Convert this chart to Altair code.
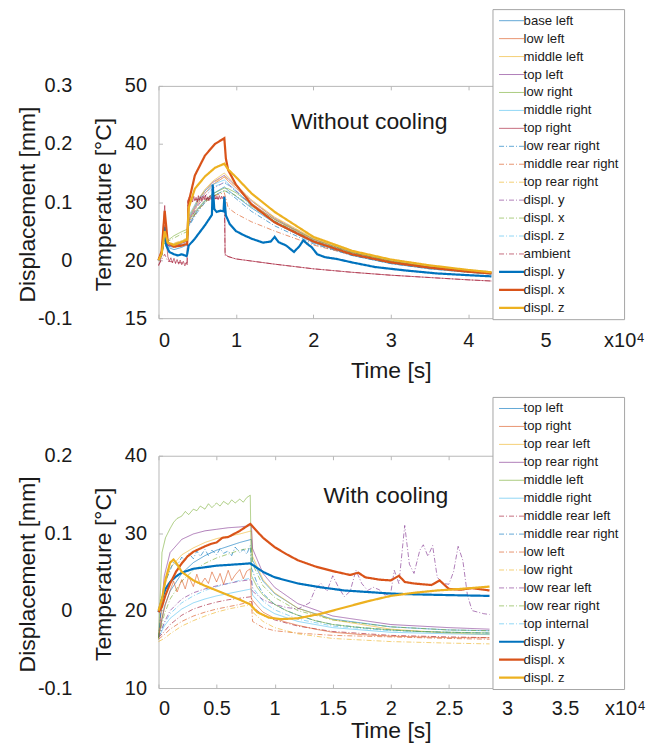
import altair as alt
import pandas as pd

FONT = "Liberation Sans"
INK = "#1a1a1a"

# ---------------- Panel 1: without cooling (time in 1e4 s, temperature in °C) ----------------
P1_TIME = [0, 0.04, 0.08, 0.12, 0.2, 0.3, 0.37, 0.39, 0.5, 0.6, 0.7, 0.85, 0.9, 1.0, 1.2, 1.5, 2.0, 2.5, 3.0, 3.5, 4.0, 4.3]
P1_BASE_LEFT = [20.0, 21.0, 24.0, 22.2, 21.8, 22.2, 22.6, 26.0, 28.6, 30.2, 31.4, 32.6, 32.0, 31.0, 29.0, 26.4, 23.0, 20.8, 19.4, 18.5, 17.9, 17.6]
P1_LOW_LEFT = [20.0, 21.2, 26.0, 23.0, 22.5, 23.0, 23.4, 26.8, 29.5, 31.5, 33.0, 34.3, 33.6, 32.4, 29.8, 27.0, 23.4, 21.1, 19.6, 18.6, 18.0, 17.7]
P1_MIDDLE_LEFT = [20.0, 21.0, 25.0, 23.0, 22.8, 23.3, 23.7, 27.4, 30.2, 32.2, 33.6, 35.0, 34.3, 33.0, 30.4, 27.4, 23.8, 21.4, 19.8, 18.8, 18.1, 17.8]
P1_TOP_LEFT = [20.0, 20.8, 24.5, 22.6, 22.4, 22.9, 23.3, 27.0, 29.9, 31.9, 33.4, 34.6, 34.0, 32.8, 30.2, 27.2, 23.6, 21.3, 19.8, 18.8, 18.2, 17.9]
P1_LOW_RIGHT = [20.0, 21.5, 23.2, 23.4, 24.2, 24.9, 25.3, 26.8, 28.8, 30.3, 31.4, 32.4, 32.3, 31.6, 29.6, 27.0, 23.6, 21.3, 19.9, 18.9, 18.3, 18.0]
P1_MIDDLE_RIGHT = [20.0, 21.0, 24.5, 22.8, 22.7, 23.2, 23.6, 27.6, 30.3, 32.0, 33.0, 33.8, 33.2, 32.0, 29.5, 26.7, 23.3, 21.1, 19.6, 18.7, 18.1, 17.8]
P1_LOW_REAR_RIGHT = [20.0, 21.0, 23.6, 22.4, 22.2, 22.7, 23.1, 25.8, 28.2, 29.9, 31.0, 32.0, 31.6, 30.6, 28.4, 25.9, 22.8, 20.8, 19.4, 18.5, 17.9, 17.6]
P1_MIDDLE_REAR_RIGHT = [20.0, 21.0, 24.0, 22.5, 22.4, 22.9, 23.3, 26.2, 28.4, 30.0, 31.0, 31.6, 29.0, 28.0, 26.6, 25.0, 22.6, 20.9, 19.6, 18.7, 18.1, 17.8]
P1_TOP_REAR_RIGHT = [20.0, 21.0, 24.2, 22.9, 22.9, 23.4, 23.8, 27.2, 30.0, 32.0, 33.3, 34.4, 33.9, 32.7, 30.2, 27.3, 23.7, 21.4, 19.8, 18.8, 18.2, 17.9]
P1_DISPL_Y_THIN = [20.0, 20.8, 23.8, 22.5, 22.4, 22.8, 23.2, 26.5, 29.2, 31.0, 32.3, 33.4, 33.0, 31.9, 29.5, 26.7, 23.3, 21.1, 19.6, 18.7, 18.1, 17.8]
P1_DISPL_X_THIN = [20.0, 21.3, 23.0, 23.2, 23.8, 24.5, 24.9, 26.5, 28.5, 30.0, 31.0, 31.9, 31.8, 31.1, 29.2, 26.7, 23.4, 21.2, 19.8, 18.8, 18.2, 17.9]
P1_DISPL_Z_THIN = [20.0, 21.0, 24.2, 22.7, 22.6, 23.1, 23.5, 27.2, 29.8, 31.5, 32.6, 33.3, 32.9, 31.8, 29.3, 26.5, 23.2, 21.0, 19.6, 18.6, 18.0, 17.7]

P1_AMB_TIME = [0, 0.08, 0.12, 0.37, 0.38, 0.85, 0.86, 1.0, 1.5, 2.0, 2.5, 3.0, 3.5, 4.0, 4.3]
P1_AMBIENT = [19.2, 21.0, 19.8, 19.4, 30.4, 30.7, 20.8, 20.2, 19.3, 18.5, 17.9, 17.4, 17.0, 16.6, 16.4]

P1_TR_TIME = [0, 0.02, 0.04, 0.06, 0.08, 0.1, 0.12, 0.14, 0.16, 0.18, 0.2, 0.22, 0.24, 0.26, 0.28, 0.3, 0.32, 0.34, 0.36, 0.37,
              0.38, 0.395, 0.41, 0.425, 0.44, 0.455, 0.47, 0.485, 0.5, 0.515, 0.53, 0.545, 0.56, 0.575, 0.59, 0.605, 0.62, 0.635,
              0.65, 0.665, 0.68, 0.695, 0.71, 0.725, 0.74, 0.755, 0.77, 0.785, 0.8, 0.815, 0.83, 0.845, 0.855, 0.86, 0.9, 1.0,
              1.5, 2.0, 2.5, 3.0, 3.5, 4.0, 4.3]
P1_TOP_RIGHT = [19.0, 19.6, 21.0, 25.5, 29.4, 24.0, 20.6, 19.8, 20.4, 19.5, 20.3, 19.4, 20.1, 19.3, 20.0, 19.2, 19.8, 19.0, 19.6, 19.2,
                30.1, 30.8, 29.9, 30.6, 30.0, 31.0, 30.2, 30.8, 30.0, 31.1, 30.3, 30.9, 30.1, 31.0, 30.4, 31.2, 30.3, 30.9,
                30.2, 31.1, 30.4, 31.0, 30.3, 31.2, 30.5, 31.0, 30.4, 31.1, 30.5, 31.0, 30.6, 31.0, 30.7, 21.0, 20.6, 20.2,
                19.3, 18.5, 17.9, 17.4, 17.0, 16.6, 16.4]

# displacements (mm)
P1_DY_TIME = [0, 0.04, 0.08, 0.1, 0.14, 0.2, 0.25, 0.3, 0.36, 0.37, 0.39, 0.47, 0.6, 0.66, 0.69, 0.7, 0.72, 0.75, 0.8, 0.84, 0.85, 0.87, 0.92,
              1.0, 1.1, 1.2, 1.35, 1.45, 1.5, 1.55, 1.65, 1.75, 1.82, 1.87, 1.92, 1.98, 2.05, 2.15, 2.3, 2.5, 2.8, 3.2, 3.6, 4.0, 4.3]
P1_DISPL_Y = [0.000, 0.010, 0.057, 0.025, 0.014, 0.010, 0.008, 0.010, 0.007, 0.010, 0.025, 0.037, 0.060, 0.072, 0.078, 0.130, 0.088, 0.083,
              0.085, 0.084, 0.109, 0.077, 0.062, 0.050, 0.043, 0.037, 0.030, 0.032, 0.040, 0.031, 0.025, 0.014, 0.024, 0.034, 0.028, 0.022,
              0.010, 0.005, 0.002, -0.004, -0.012, -0.018, -0.023, -0.026, -0.028]
P1_DX_TIME = [0, 0.04, 0.08, 0.12, 0.2, 0.3, 0.37, 0.39, 0.47, 0.6, 0.73, 0.85, 0.87, 0.9, 1.0, 1.2, 1.5, 2.0, 2.5, 3.0, 3.5, 4.0, 4.3]
P1_DISPL_X = [0.000, 0.015, 0.085, 0.030, 0.023, 0.025, 0.028, 0.100, 0.146, 0.180, 0.200, 0.210, 0.175, 0.155, 0.130, 0.096, 0.065, 0.032,
              0.010, -0.004, -0.013, -0.020, -0.023]
P1_DZ_TIME = [0, 0.04, 0.08, 0.12, 0.2, 0.3, 0.37, 0.39, 0.47, 0.6, 0.73, 0.85, 0.9, 1.0, 1.2, 1.5, 2.0, 2.5, 3.0, 3.5, 4.0, 4.3]
P1_DISPL_Z = [0.000, 0.010, 0.050, 0.030, 0.026, 0.031, 0.035, 0.090, 0.123, 0.144, 0.159, 0.166, 0.156, 0.143, 0.115, 0.083, 0.040, 0.016,
              0.001, -0.009, -0.017, -0.021]

P1_KEYS = ["base left", "low left", "middle left", "top left", "low right", "middle right", "top right",
           "low rear right", "middle rear right", "top rear right", "displ. y", "displ. x", "displ. z", "ambient",
           "displ. y|thick", "displ. x|thick", "displ. z|thick"]

# ---------------- Panel 2: with cooling ----------------
P2_TIME = [0, 0.05, 0.1, 0.2, 0.3, 0.4, 0.5, 0.6, 0.7, 0.8, 0.81, 0.9, 1.0, 1.2, 1.5, 2.0, 2.5, 2.85]
P2_TOP_LEFT = [16.5, 20.5, 22.5, 24.8, 26.2, 27.1, 27.8, 28.3, 28.8, 29.2, 26.5, 23.8, 22.2, 20.3, 18.9, 17.9, 17.5, 17.4]
P2_TOP_REAR_LEFT = [16.5, 23.0, 25.5, 27.2, 28.1, 28.8, 29.3, 29.6, 29.9, 30.3, 27.0, 24.0, 22.3, 20.3, 18.8, 17.6, 17.1, 16.9]
P2_TOP_REAR_RIGHT = [16.5, 24.5, 27.5, 29.2, 29.9, 30.3, 30.5, 30.7, 30.8, 31.0, 28.0, 24.8, 23.0, 20.9, 19.3, 18.2, 17.8, 17.6]
P2_MIDDLE_RIGHT = [16.5, 18.0, 19.0, 20.2, 21.0, 21.5, 21.9, 22.2, 22.5, 22.8, 22.0, 20.5, 19.6, 18.6, 17.8, 17.2, 17.0, 16.9]
P2_MIDDLE_REAR_LEFT = [16.5, 17.3, 18.2, 19.4, 20.2, 20.7, 21.1, 21.4, 21.6, 21.8, 20.5, 19.4, 18.8, 18.0, 17.3, 16.8, 16.6, 16.5]
P2_LOW_LEFT = [16.3, 16.9, 17.6, 18.6, 19.3, 19.8, 20.2, 20.5, 20.8, 21.2, 18.6, 17.8, 17.4, 17.1, 16.8, 16.6, 16.4, 16.3]
P2_LOW_RIGHT = [16.0, 16.4, 17.0, 18.0, 18.7, 19.3, 19.8, 20.2, 20.5, 20.8, 19.8, 18.6, 17.8, 17.0, 16.4, 16.0, 15.8, 15.7]
P2_LOW_REAR_RIGHT = [16.5, 19.5, 21.5, 23.8, 25.2, 26.1, 26.8, 27.3, 27.8, 28.1, 26.0, 23.2, 21.7, 20.0, 18.8, 17.9, 17.5, 17.4]
P2_TOP_INTERNAL = [16.5, 18.3, 19.6, 21.0, 21.9, 22.6, 23.1, 23.5, 23.9, 24.2, 23.0, 21.2, 20.1, 18.9, 18.0, 17.4, 17.2, 17.1]

P2_FINE_TIME = [0, 0.03, 0.06, 0.1, 0.13, 0.16, 0.2, 0.23, 0.26, 0.3, 0.33, 0.36, 0.4, 0.43, 0.46, 0.5, 0.53, 0.56, 0.6, 0.63, 0.66,
                0.7, 0.73, 0.76, 0.79, 0.8, 0.85, 0.9, 1.0, 1.1, 1.2, 1.35, 1.5, 1.75, 2.0, 2.25, 2.5, 2.85]
P2_MIDDLE_LEFT = [16.3, 27.5, 29.4, 30.6, 31.4, 31.9, 32.2, 32.8, 32.4, 33.1, 32.9, 33.5, 33.1, 33.8, 33.3, 33.9, 33.5, 34.1, 33.7, 34.3,
                  33.9, 34.4, 34.0, 34.6, 34.9, 24.5, 23.0, 22.0, 20.8, 20.0, 19.4, 18.7, 18.2, 17.8, 17.5, 17.3, 17.2, 17.1]
P2_MIDDLE_REAR_RIGHT = [16.5, 21.5, 23.8, 25.2, 26.3, 25.8, 26.9, 26.4, 27.4, 26.7, 27.7, 27.0, 27.9, 27.1, 27.8, 27.2, 28.0, 27.4, 27.7,
                        27.1, 28.2, 27.5, 27.9, 27.3, 28.4, 25.5, 23.5, 22.2, 20.8, 20.0, 19.4, 18.7, 18.2, 17.8, 17.5, 17.3, 17.2, 17.1]
P2_TOP_RIGHT = [16.5, 19.0, 20.8, 22.6, 23.8, 22.4, 24.0, 22.8, 24.4, 23.1, 24.7, 23.3, 24.2, 23.5, 25.0, 23.7, 24.8, 23.4, 25.2, 23.9,
                24.6, 25.3, 24.1, 25.1, 25.4, 21.5, 20.6, 19.8, 19.0, 18.5, 18.1, 17.6, 17.2, 16.9, 16.7, 16.6, 16.5, 16.5]

P2_LRL_TIME = [0, 0.05, 0.1, 0.2, 0.3, 0.4, 0.5, 0.6, 0.7, 0.8, 0.81, 0.9, 1.0, 1.1, 1.2, 1.3, 1.35, 1.4, 1.45, 1.5, 1.55, 1.6, 1.65,
               1.7, 1.75, 1.8, 1.85, 1.9, 1.95, 2.0, 2.03, 2.07, 2.12, 2.16, 2.2, 2.25, 2.28, 2.32, 2.36, 2.4, 2.45, 2.5, 2.54, 2.58,
               2.62, 2.66, 2.7, 2.75, 2.8, 2.85]
P2_LOW_REAR_LEFT = [16.5, 18.5, 20.0, 21.5, 22.3, 22.8, 23.2, 23.5, 23.8, 24.0, 22.5, 21.4, 20.8, 20.4, 20.2, 21.0, 22.8, 23.5, 22.5,
                    24.5, 23.0, 21.8, 22.5, 25.2, 23.5, 22.6, 23.0, 22.7, 22.0, 22.3, 25.2, 23.5, 31.0, 26.0, 24.8, 27.8, 28.5, 27.0,
                    28.4, 24.3, 23.5, 23.4, 25.0, 28.3, 26.5, 22.0, 20.0, 19.8, 19.6, 19.5]

P2_DY_TIME = [0, 0.03, 0.06, 0.1, 0.15, 0.2, 0.3, 0.4, 0.5, 0.6, 0.7, 0.79, 0.85, 0.9, 1.0, 1.2, 1.4, 1.6, 1.8, 2.0, 2.2, 2.5, 2.85]
P2_DISPL_Y = [-0.002, 0.015, 0.028, 0.037, 0.044, 0.049, 0.054, 0.056, 0.058, 0.059, 0.060, 0.061, 0.055, 0.050, 0.043, 0.035, 0.030,
              0.026, 0.024, 0.022, 0.021, 0.020, 0.019]
P2_DX_TIME = [0, 0.03, 0.06, 0.1, 0.15, 0.2, 0.25, 0.3, 0.4, 0.45, 0.5, 0.55, 0.6, 0.7, 0.75, 0.79, 0.82, 0.9, 1.0, 1.1, 1.2, 1.35,
              1.5, 1.65, 1.72, 1.78, 1.9, 2.0, 2.07, 2.12, 2.2, 2.35, 2.42, 2.5, 2.6, 2.7, 2.85]
P2_DISPL_X = [-0.002, 0.005, 0.020, 0.035, 0.050, 0.061, 0.070, 0.076, 0.083, 0.086, 0.088, 0.094, 0.095, 0.103, 0.108, 0.112, 0.107,
              0.094, 0.082, 0.073, 0.065, 0.057, 0.051, 0.046, 0.049, 0.043, 0.040, 0.039, 0.045, 0.037, 0.035, 0.033, 0.039, 0.028,
              0.027, 0.029, 0.026]
P2_DZ_TIME = [0, 0.03, 0.06, 0.1, 0.13, 0.16, 0.2, 0.3, 0.4, 0.5, 0.6, 0.7, 0.79, 0.85, 0.95, 1.05, 1.2, 1.4, 1.6, 1.8, 2.0, 2.2,
              2.4, 2.6, 2.85]
P2_DISPL_Z = [0.000, 0.015, 0.040, 0.062, 0.066, 0.060, 0.050, 0.039, 0.032, 0.026, 0.020, 0.014, 0.008, -0.002, -0.009, -0.011,
              -0.010, -0.004, 0.004, 0.012, 0.019, 0.023, 0.026, 0.028, 0.031]

P2_KEYS = ["top left", "top right", "top rear left", "top rear right", "middle left", "middle right",
           "middle rear left", "middle rear right", "low left", "low right", "low rear left", "low rear right",
           "top internal", "displ. y|thick", "displ. x|thick", "displ. z|thick"]

# axis tick values
P1_X_TICKS = [0, 1, 2, 3, 4, 5]
P2_X_TICKS = [0, 0.5, 1, 1.5, 2, 2.5, 3, 3.5]
P1_T_TICKS = [10, 20, 30, 40, 50]
P2_T_TICKS = [10, 20, 30, 40]
P1_D_TICKS = [-0.1, 0, 0.1, 0.2, 0.3]
P2_D_TICKS = [-0.1, 0, 0.1, 0.2]

# ---------------- styling ----------------
BLUE, ORANGE, YELLOW = "#0072BD", "#D95319", "#EDB120"
A = 0.62
tb, to, ty = f"rgba(0,114,189,{A})", f"rgba(217,83,25,{A})", f"rgba(237,177,32,{A})"
tp, tg, tl, td = f"rgba(126,47,142,{A})", f"rgba(119,172,48,{A})", f"rgba(77,190,238,{A})", f"rgba(162,20,47,{A})"
SOLID, DD = [1, 0], [5, 2, 1, 2]
THIN, THICK = 1.0, 2.2
FRAME = "#b8b8b8"

P1_COLORS = [tb, to, ty, tp, tg, tl, td, tb, to, ty, tp, tg, tl, td, BLUE, ORANGE, YELLOW]
P1_DASHES = [SOLID] * 7 + [DD] * 7 + [SOLID] * 3
P1_WIDTHS = [THIN] * 14 + [THICK] * 3
P2_COLORS = [tb, to, ty, tp, tg, tl, td, tb, to, ty, tp, tg, tl, BLUE, ORANGE, YELLOW]
P2_DASHES = [SOLID] * 6 + [DD] * 7 + [SOLID] * 3
P2_WIDTHS = [THIN] * 13 + [THICK] * 3


def frame(series, col):
    return pd.concat([pd.DataFrame({"t": ts, col: vs, "key": k}) for k, ts, vs in series], ignore_index=True)


p1_thin = frame([
    ("base left", P1_TIME, P1_BASE_LEFT), ("low left", P1_TIME, P1_LOW_LEFT),
    ("middle left", P1_TIME, P1_MIDDLE_LEFT), ("top left", P1_TIME, P1_TOP_LEFT),
    ("low right", P1_TIME, P1_LOW_RIGHT), ("middle right", P1_TIME, P1_MIDDLE_RIGHT),
    ("low rear right", P1_TIME, P1_LOW_REAR_RIGHT), ("middle rear right", P1_TIME, P1_MIDDLE_REAR_RIGHT),
    ("top rear right", P1_TIME, P1_TOP_REAR_RIGHT), ("displ. y", P1_TIME, P1_DISPL_Y_THIN),
    ("displ. x", P1_TIME, P1_DISPL_X_THIN), ("displ. z", P1_TIME, P1_DISPL_Z_THIN),
    ("ambient", P1_AMB_TIME, P1_AMBIENT), ("top right", P1_TR_TIME, P1_TOP_RIGHT),
], "temp")
p1_thick = frame([
    ("displ. y|thick", P1_DY_TIME, P1_DISPL_Y), ("displ. x|thick", P1_DX_TIME, P1_DISPL_X),
    ("displ. z|thick", P1_DZ_TIME, P1_DISPL_Z),
], "mm")

p2_thin = frame([
    ("top left", P2_TIME, P2_TOP_LEFT), ("top rear left", P2_TIME, P2_TOP_REAR_LEFT),
    ("top rear right", P2_TIME, P2_TOP_REAR_RIGHT), ("middle right", P2_TIME, P2_MIDDLE_RIGHT),
    ("middle rear left", P2_TIME, P2_MIDDLE_REAR_LEFT), ("low left", P2_TIME, P2_LOW_LEFT),
    ("low right", P2_TIME, P2_LOW_RIGHT), ("low rear right", P2_TIME, P2_LOW_REAR_RIGHT),
    ("top internal", P2_TIME, P2_TOP_INTERNAL), ("low rear left", P2_LRL_TIME, P2_LOW_REAR_LEFT),
    ("middle rear right", P2_FINE_TIME, P2_MIDDLE_REAR_RIGHT), ("top right", P2_FINE_TIME, P2_TOP_RIGHT),
    ("middle left", P2_FINE_TIME, P2_MIDDLE_LEFT),
], "temp")
p2_thick = frame([
    ("displ. y|thick", P2_DY_TIME, P2_DISPL_Y), ("displ. x|thick", P2_DX_TIME, P2_DISPL_X),
    ("displ. z|thick", P2_DZ_TIME, P2_DISPL_Z),
], "mm")

W, H = 466, 233
DISP_LABELS = "datum.value == 0 ? '0' : (datum.value < 0 ? '-' + format(-datum.value, '.1f') : format(datum.value, '.1f'))"


def tick_axis(orient, values):
    # small inward ticks on the plot frame (MATLAB style)
    return alt.Axis(orient=orient, offset=-4, values=values, labels=False, ticks=True, tickSize=4,
                    tickColor=FRAME, tickWidth=1, domain=False, grid=False, title=None)


def panel(thin_df, thick_df, keys, colors, dashes, widths, xdom, xticks, tdom, tticks, tlabels,
          ddom, dticks, legend_y, note, note_t, note_temp, exp_t, xlab_pad, xtitle_y):
    leg = alt.Legend(orient="none", legendX=335, legendY=legend_y, direction="vertical", title=None,
                     fillColor="white", strokeColor="#a6a6a6", padding=5, labelFont=FONT, labelFontSize=13.2,
                     labelColor=INK, symbolType="M-1,0H4", symbolSize=100, labelOffset=13, rowPadding=4.0,
                     labelExpr="split(datum.label, '|')[0]", labelLimit=300, symbolLimit=40)
    enc = dict(
        color=alt.Color("key:N", scale=alt.Scale(domain=keys, range=colors), legend=leg),
        strokeDash=alt.StrokeDash("key:N", scale=alt.Scale(domain=keys, range=dashes), legend=leg),
        strokeWidth=alt.StrokeWidth("key:N", scale=alt.Scale(type="ordinal", domain=keys, range=widths), legend=leg),
    )
    xs = alt.Scale(domain=xdom, nice=False, zero=False)
    xax = alt.Axis(orient="bottom", values=xticks, format="~g", title="Time [s]", labelBaseline="alphabetic",
                   labelPadding=xlab_pad, titleY=xtitle_y, titleBaseline="alphabetic")
    ts = alt.Scale(domain=tdom, nice=False, zero=False)
    tax = alt.Axis(orient="left", values=tticks, labelExpr=tlabels, title="Temperature [°C]", labelPadding=12,
                   titleX=-55, titleY=H / 2 + 2, titleAngle=270, titleAlign="center", titleBaseline="middle")
    ds = alt.Scale(domain=ddom, nice=False, zero=False)
    dax = alt.Axis(orient="left", values=dticks, labelExpr=DISP_LABELS, title="Displacement [mm]", offset=81,
                   labelPadding=6, titleX=-50, titleY=H / 2 + 2, titleAngle=270, titleAlign="center",
                   titleBaseline="middle")

    thin = alt.Chart(thin_df).mark_line().encode(
        x=alt.X("t:Q", scale=xs, axis=xax), y=alt.Y("temp:Q", scale=ts, axis=tax), **enc)
    thick = alt.Chart(thick_df).mark_line().encode(
        x=alt.X("t:Q", scale=xs, axis=tick_axis("top", xticks)), y=alt.Y("mm:Q", scale=ds, axis=dax), **enc)
    note_df = pd.DataFrame({"t": [note_t], "temp": [note_temp], "label": [note]})
    text = alt.Chart(note_df).mark_text(align="left", baseline="alphabetic", font=FONT, fontSize=23,
                                        color=INK).encode(
        x=alt.X("t:Q", scale=xs, axis=tick_axis("bottom", xticks)),
        y=alt.Y("temp:Q", scale=ts, axis=tick_axis("left", tticks)), text="label:N")
    exp_df = pd.DataFrame({"t": [exp_t], "temp": [tdom[0]], "base": ["x10"], "power": ["4"]})
    x10 = alt.Chart(exp_df).mark_text(align="left", baseline="alphabetic", font=FONT, fontSize=20, color=INK,
                                      dy=xlab_pad).encode(
        x=alt.X("t:Q", scale=xs, axis=None), y=alt.Y("temp:Q", scale=ts, axis=None), text="base:N")
    pw = alt.Chart(exp_df).mark_text(align="left", baseline="alphabetic", font=FONT, fontSize=13, color=INK,
                                     dx=33, dy=xlab_pad - 5).encode(
        x=alt.X("t:Q", scale=xs, axis=None), y=alt.Y("temp:Q", scale=ts, axis=None), text="power:N")
    return alt.layer(thin, thick, text, x10, pw).resolve_scale(y="independent").resolve_axis(
        x="independent", y="independent").properties(width=W, height=H)


top = panel(p1_thin, p1_thick, P1_KEYS, P1_COLORS, P1_DASHES, P1_WIDTHS, [0, 6], P1_X_TICKS, [10, 50], P1_T_TICKS,
            "datum.value == 10 ? '15' : datum.label", [-0.1, 0.3], P1_D_TICKS, -77,
            "Without cooling", 1.71, 42.5, 5.755, 28.5, 60)
bottom = panel(p2_thin, p2_thick, P2_KEYS, P2_COLORS, P2_DASHES, P2_WIDTHS, [0, 4], P2_X_TICKS, [10, 40], P2_T_TICKS,
               "datum.label", [-0.1, 0.2], P2_D_TICKS, -59,
               "With cooling", 1.42, 33.95, 3.845, 27, 50)

chart = alt.vconcat(top, bottom, spacing=12).resolve_scale(
    color="independent", strokeDash="independent", strokeWidth="independent"
).resolve_legend(color="independent", strokeDash="independent", strokeWidth="independent").properties(
    padding={"left": 16, "top": 7, "right": 0, "bottom": 0}, background="white"
).configure_view(stroke=FRAME, strokeWidth=1).configure_axis(
    labelFont=FONT, titleFont=FONT, labelFontSize=20, titleFontSize=23, titleFontWeight="normal",
    labelColor=INK, titleColor=INK, grid=False, domain=False, ticks=False, tickSize=0
)

chart.save("out.html", embed_options={"renderer": "svg", "actions": False})
